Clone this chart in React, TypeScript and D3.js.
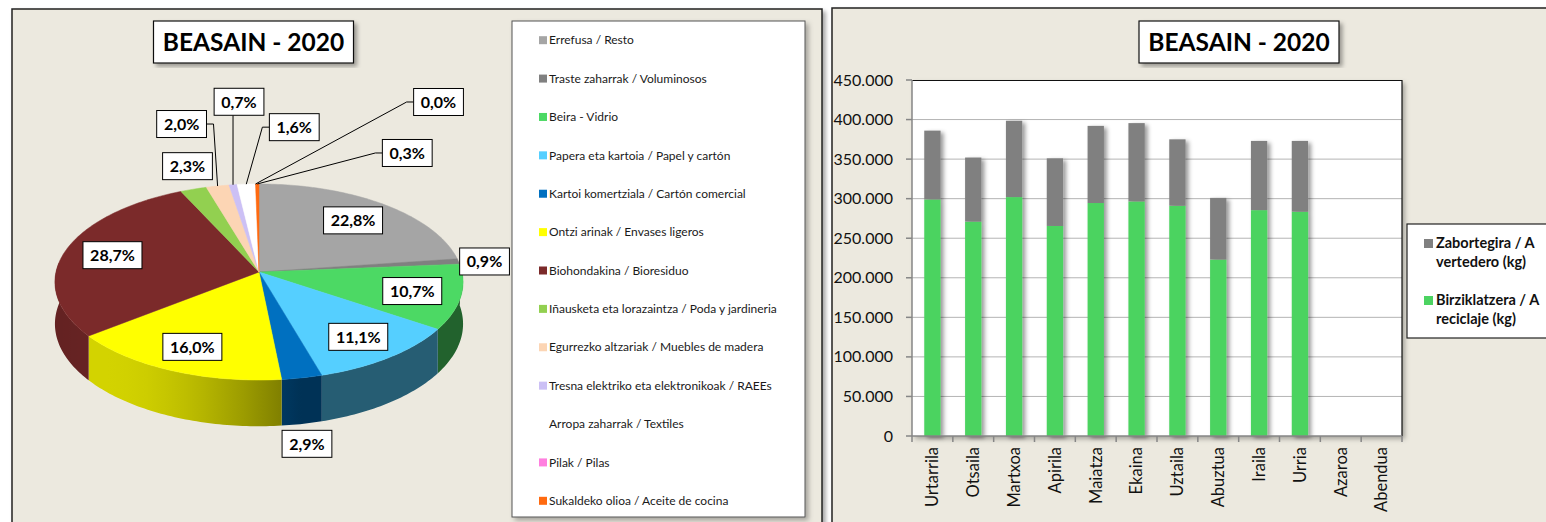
import React from "react";
import * as d3 from "d3";

// --- pie: waste composition 2020 ---
const wasteTypes = [
  "Errefusa / Resto",
  "Traste zaharrak / Voluminosos",
  "Beira - Vidrio",
  "Papera eta kartoia / Papel y cartón",
  "Kartoi komertziala / Cartón comercial",
  "Ontzi arinak / Envases ligeros",
  "Biohondakina / Bioresiduo",
  "Iñausketa eta lorazaintza / Poda y jardineria",
  "Egurrezko altzariak / Muebles de madera",
  "Tresna elektriko eta elektronikoak / RAEEs",
  "Arropa zaharrak / Textiles",
  "Pilak / Pilas",
  "Sukaldeko olioa / Aceite de cocina",
];
const wasteShares = [22.8, 0.9, 10.7, 11.1, 2.9, 16.0, 28.7, 2.3, 2.0, 0.7, 1.6, 0.0, 0.3];
const wasteColors = [
  "#a5a5a5", "#808080", "#4cd964", "#55cfff", "#0070c0", "#ffff00", "#7b2a2a",
  "#92d050", "#fcd5b4", "#ccc0f5", "#ffffff", "#ff7fdf", "#ff6a10",
];

// --- bars: monthly kg ---
const months = [
  "Urtarrila", "Otsaila", "Martxoa", "Apirila", "Maiatza", "Ekaina",
  "Uztaila", "Abuztua", "Iraila", "Urria", "Azaroa", "Abendua",
];
const recycledKg = [299000, 271000, 302000, 265500, 294500, 296500, 291000, 223000, 285500, 283500, 0, 0];
const landfillKg = [87000, 81000, 96500, 85500, 97500, 99000, 84000, 78000, 87500, 89500, 0, 0];
const seriesColors = ["#808080", "#4cd361"];

const title = "BEASAIN - 2020";

const locale = d3.formatLocale({ decimal: ",", thousands: ".", grouping: [3], currency: ["", " €"] });
const fmtKg = locale.format(",.0f");
const fmtPct = locale.format(".1f");

const FONT = "Lato, 'Open Sans', sans-serif";
const BG = "#ecE9df";

// labels that Excel placed outside the pie (offset from the rim point)
const outsideLabels: Record<number, { dx: number; dy: number; leader: boolean }> = {
  1: { dx: 26, dy: 0, leader: false },
  4: { dx: 5, dy: 66, leader: false },
  7: { dx: -6, dy: -23, leader: false },
  8: { dx: -36, dy: -62, leader: true },
  9: { dx: 6, dy: -83, leader: true },
  10: { dx: 48, dy: -57, leader: true },
  11: { dx: 183, dy: -82, leader: true },
  12: { dx: 150, dy: -31, leader: true },
};

const P = { cx: 259, cy: 272, rx: 203, ry: 97, k: 0.102, depth: 41.5 };

// perspective projection of a point on the pie rim
function rim(a: number, r = 1, drop = 0): [number, number] {
  const u = Math.sin(a);
  const v = -Math.cos(a);
  const s = 1 / (1 - P.k * v);
  return [P.cx + P.rx * u * r * s, P.cy + P.ry * v * r * s + drop * s];
}

function shade(color: string, x: number) {
  const t = (x - (P.cx - P.rx)) / (2 * P.rx);
  const f = 0.45 + 0.38 * Math.max(0, Math.cos((t - 0.1) * Math.PI));
  const c = d3.rgb(color);
  return d3.rgb(c.r * f, c.g * f, c.b * f).formatHex();
}

const labelWidth = (text: string) => text.length * 9.2 + 13;

function LabelBox({ x, y, text }: { x: number; y: number; text: string }) {
  const w = labelWidth(text);
  return (
    <g>
      <rect x={x - w / 2} y={y - 13.5} width={w} height={27} fill="#fff" stroke="#000" strokeWidth={1} />
      <text x={x} y={y} dy="0.36em" textAnchor="middle" fontWeight="bold" fontSize={16}>
        {text}
      </text>
    </g>
  );
}

function TitleBox({ cx }: { cx: number }) {
  return (
    <g>
      <rect x={cx - 100} y={21} width={200} height={42} fill="#fff" stroke="#111" strokeWidth={1.2} filter="url(#shadow)" />
      <text x={cx} y={42} dy="0.36em" textAnchor="middle" fontWeight="bold" fontSize={24.5}>
        {title}
      </text>
    </g>
  );
}

function PieChart() {
  const arcs = d3.pie<number>().sort(null).value((d) => d)(wasteShares);
  const step = Math.PI / 180;

  const gradients: JSX.Element[] = [];
  const sides: JSX.Element[] = [];
  arcs.forEach((a, i) => {
    const a0 = Math.max(a.startAngle, Math.PI / 2 - 0.1);
    const a1 = Math.min(a.endAngle, (3 * Math.PI) / 2 + 0.1);
    if (a1 <= a0) return;
    const n = Math.max(2, Math.ceil((a1 - a0) / step));
    const top: [number, number][] = [];
    const bottom: [number, number][] = [];
    for (let j = 0; j <= n; j++) {
      const t = a0 + ((a1 - a0) * j) / n;
      top.push(rim(t));
      bottom.push(rim(t, 1, P.depth));
    }
    const pts = top.concat(bottom.reverse());
    const xs = pts.map((p) => p[0]);
    const xMin = d3.min(xs)!, xMax = d3.max(xs)!;
    const id = `side${i}`;
    gradients.push(
      <linearGradient key={id} id={id} gradientUnits="userSpaceOnUse" x1={xMin} x2={xMax} y1={0} y2={0}>
        {d3.range(0, 1.0001, 0.1).map((f) => (
          <stop key={f} offset={f} stopColor={shade(wasteColors[i], xMin + (xMax - xMin) * f)} />
        ))}
      </linearGradient>
    );
    sides.push(<path key={id} d={d3.line()(pts) + "Z"} fill={`url(#${id})`} />);
  });

  const tops = arcs.map((a, i) => {
    if (a.endAngle - a.startAngle <= 0) return null;
    const pts: [number, number][] = [[P.cx, P.cy]];
    const n = Math.max(2, Math.ceil((a.endAngle - a.startAngle) / step));
    for (let j = 0; j <= n; j++) pts.push(rim(a.startAngle + ((a.endAngle - a.startAngle) * j) / n));
    return (
      <path key={`t${i}`} d={d3.line()(pts) + "Z"} fill={wasteColors[i]} stroke={wasteColors[i]} strokeWidth={0.5} />
    );
  });

  const labels = arcs.map((a, i) => {
    const mid = (a.startAngle + a.endAngle) / 2;
    const text = fmtPct(wasteShares[i]) + "%";
    const o = outsideLabels[i];
    if (!o) {
      const [x, y] = rim(mid, 0.76);
      return <LabelBox key={`l${i}`} x={x} y={y} text={text} />;
    }
    const [ax, ay] = rim(mid);
    const bx = ax + o.dx, by = ay + o.dy;
    const w = labelWidth(text);
    let leader = null;
    if (o.leader) {
      let pts: [number, number][];
      if (Math.abs(o.dx) < w / 2) pts = [[ax, ay], [ax, by + 13.5]];
      else if (o.dx < 0) pts = [[ax, ay], [bx + w / 2 + 7, by], [bx + w / 2, by]];
      else pts = [[ax, ay], [bx - w / 2 - 7, by], [bx - w / 2, by]];
      leader = <path d={d3.line()(pts)!} fill="none" stroke="#000" strokeWidth={1} />;
    }
    return (
      <g key={`l${i}`}>
        {leader}
        <LabelBox x={bx} y={by} text={text} />
      </g>
    );
  });

  const legendY = d3.scaleBand<number>().domain(d3.range(wasteTypes.length)).range([21, 520]);

  return (
    <g>
      <defs>{gradients}</defs>
      <rect x={12} y={9} width={810} height={520} fill={BG} stroke="#222" strokeWidth={1.5} filter="url(#shadow)" />
      <TitleBox cx={253.5} />
      {sides}
      {tops}
      {labels}
      <rect x={512} y={21} width={293} height={496} fill="#fff" stroke="#555" strokeWidth={1} filter="url(#shadowSoft)" />
      {wasteTypes.map((name, i) => {
        const cy = legendY(i)! + legendY.bandwidth() / 2;
        return (
          <g key={name}>
            <rect x={539} y={cy - 4} width={8} height={8} fill={wasteColors[i]} />
            <text x={549} y={cy} dy="0.35em" fontSize={12} fill="#1a1a1a">
              {name}
            </text>
          </g>
        );
      })}
    </g>
  );
}

function BarChart() {
  const x = d3.scaleBand().domain(months).range([912, 1402]).paddingInner(0.6).paddingOuter(0.3);
  const y = d3.scaleLinear().domain([0, 450000]).range([436, 80]);
  const rows = months.map((m, i) => ({ month: m, recycled: recycledKg[i], landfill: landfillKg[i] }));
  const stacked = d3.stack<any>().keys(["recycled", "landfill"])(rows);
  const stackColors = [seriesColors[1], seriesColors[0]];
  const ticks = y.ticks(9);
  const stepX = x.step();

  const legendItems = [
    { color: seriesColors[0], lines: ["Zabortegira / A", "vertedero (kg)"], y: 243 },
    { color: seriesColors[1], lines: ["Birziklatzera / A", "reciclaje (kg)"], y: 300 },
  ];

  return (
    <g>
      <rect x={832} y={8} width={730} height={530} fill={BG} stroke="#222" strokeWidth={1.5} filter="url(#shadow)" />
      <TitleBox cx={1239} />
      <rect x={912} y={80} width={490} height={356} fill="#fff" filter="url(#shadowSoft)" />
      {ticks.filter((t) => t > 0 && t < 450000).map((t) => (
        <line key={t} x1={912} x2={1402} y1={y(t)} y2={y(t)} stroke="#b4b4b4" strokeWidth={1} />
      ))}
      <path d="M912,80.5H1402V436" fill="none" stroke="#111" strokeWidth={1.2} />
      <g filter="url(#barShadow)">
        {stacked.map((layer, li) =>
          layer.map((d, i) =>
            d[1] - d[0] > 0 ? (
              <rect
                key={`${layer.key}${i}`}
                x={x(months[i])}
                y={y(d[1])}
                width={x.bandwidth()}
                height={y(d[0]) - y(d[1])}
                fill={stackColors[li]}
              />
            ) : null
          )
        )}
      </g>
      {/* axes */}
      <line x1={912} x2={912} y1={80} y2={436} stroke="#868686" strokeWidth={1.5} />
      <line x1={912} x2={1402} y1={436} y2={436} stroke="#868686" strokeWidth={1.5} />
      {ticks.map((t) => (
        <g key={t}>
          <line x1={906} x2={912} y1={y(t)} y2={y(t)} stroke="#868686" strokeWidth={1.5} />
          <text x={893} y={y(t)} dy="0.35em" textAnchor="end" fontSize={16} fill="#111">
            {fmtKg(t)}
          </text>
        </g>
      ))}
      {d3.range(months.length + 1).map((i) => (
        <line key={i} x1={912 + i * stepX} x2={912 + i * stepX} y1={436} y2={442} stroke="#868686" strokeWidth={1.5} />
      ))}
      {months.map((m) => {
        const cx = x(m)! + x.bandwidth() / 2;
        return (
          <text
            key={m}
            transform={`translate(${cx},447) rotate(-90)`}
            dy="0.35em"
            textAnchor="end"
            fontSize={16.5}
            fill="#111"
          >
            {m}
          </text>
        );
      })}
      {/* legend */}
      <rect x={1407} y={224} width={150} height={114} fill="#fff" stroke="#222" strokeWidth={1.2} />
      {legendItems.map((it) => (
        <g key={it.lines[0]}>
          <rect x={1424} y={it.y - 4} width={9} height={9} fill={it.color} />
          {it.lines.map((ln, j) => (
            <text key={ln} x={1436} y={it.y + j * 19} dy="0.35em" fontSize={14.5} fontWeight="bold" fill="#111">
              {ln}
            </text>
          ))}
        </g>
      ))}
    </g>
  );
}

export default function App() {
  return (
    <svg
      width={1546}
      height={522}
      style={{ position: "absolute", left: 0, top: 0, background: "#fff" }}
      fontFamily={FONT}
    >
      <defs>
        <filter id="shadow" x="-5%" y="-5%" width="115%" height="115%">
          <feDropShadow dx={3} dy={3} stdDeviation={2} floodColor="#000" floodOpacity={0.35} />
        </filter>
        <filter id="shadowSoft" x="-5%" y="-5%" width="115%" height="115%">
          <feDropShadow dx={3} dy={3} stdDeviation={2.5} floodColor="#000" floodOpacity={0.3} />
        </filter>
        <filter id="barShadow" x="-10%" y="-10%" width="130%" height="130%">
          <feDropShadow dx={3} dy={2} stdDeviation={2} floodColor="#000" floodOpacity={0.4} />
        </filter>
      </defs>
      <PieChart />
      <BarChart />
    </svg>
  );
}
